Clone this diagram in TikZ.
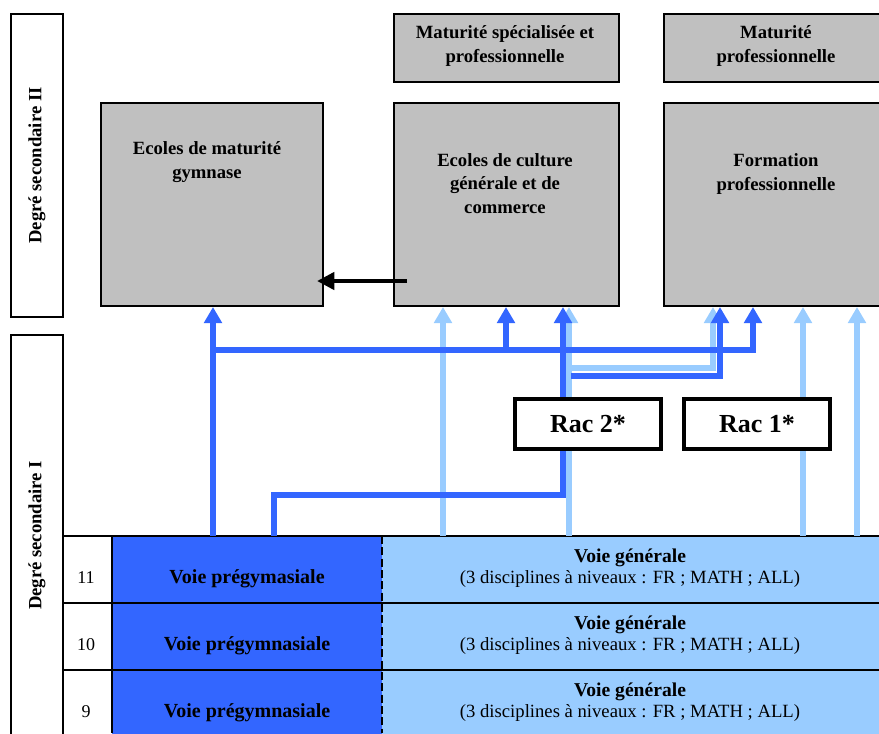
\documentclass[tikz,border=0pt]{standalone}
\usepackage{fontspec}
\setmainfont{Liberation Serif}
\usetikzlibrary{arrows.meta,positioning}

\definecolor{pregym}{HTML}{3366FF}
\definecolor{generale}{HTML}{99CCFF}
\definecolor{ecole}{HTML}{C0C0C0}

\tikzset{
    ecolebox/.style={draw, line width=1.5pt, fill=ecole, anchor=north west, inner sep=0pt},
    ecoletext/.style={font=\fontsize{14}{17.5}\selectfont\bfseries, align=center, anchor=base, inner sep=0pt},
    racbox/.style={draw, line width=3pt, fill=white, anchor=north west, minimum width=109.5pt, minimum height=37.5pt, font=\fontsize{19.5}{22}\selectfont\bfseries},
    degbox/.style={draw, line width=1.5pt, anchor=north west, inner sep=0pt, minimum width=39pt},
    degtext/.style={rotate=90, font=\fontsize{14}{17}\selectfont\bfseries},
    cell/.style={anchor=north west, inner sep=0pt, minimum height=50.25pt},
    numtext/.style={anchor=base, font=\fontsize{13.5}{16}\selectfont},
    voietext/.style={anchor=base, font=\fontsize{15}{18}\selectfont\bfseries},
    gentitle/.style={anchor=base, font=\fontsize{14.7}{17}\selectfont\bfseries},
    gensub/.style={anchor=base, font=\fontsize{14}{17}\selectfont},
    darkarrow/.style={pregym, line width=4pt, -{Triangle[width=13pt,length=12pt]}},
    lightarrow/.style={generale, line width=4pt, -{Triangle[width=13pt,length=12pt]}},
    backarrow/.style={black, line width=3.4pt, -{Triangle[width=12.75pt,length=13pt]}},
}

\begin{document}
\begin{tikzpicture}[x=0.75pt, y=-0.75pt]
    \useasboundingbox (0,0) rectangle (879,733);
    \clip (0,0) rectangle (879,733);

    % Degree labels on the left
    \node[degbox, minimum height=227.25pt] (deg2) at (10,13) {};
    \node[degtext] (deg2txt) at (deg2.center) {Degré secondaire II};
    \node[degbox, minimum height=300.75pt] (deg1) at (10,334) {};
    \node[degtext] (deg1txt) at (deg1.center) {Degré secondaire I};

    % Maturity certificates (anchor = baseline of last line)
    \node[ecolebox, minimum width=168.75pt, minimum height=51pt] (msp) at (393,13) {};
    \node[ecoletext] (msptxt) at (505,62) {Maturité spécialisée et\\professionnelle};
    \node[ecolebox, minimum width=169.5pt, minimum height=51pt] (mp) at (663,13) {};
    \node[ecoletext] (mptxt) at (776,62) {Maturité\\professionnelle};

    % Schools of degree II
    \node[ecolebox, minimum width=166.5pt, minimum height=152.25pt] (gym) at (100,102) {};
    \node[ecoletext] (gymtxt) at (207,178) {Ecoles de maturité\\gymnase};
    \node[ecolebox, minimum width=168.75pt, minimum height=152.25pt] (ecg) at (393,102) {};
    \node[ecoletext] (ecgtxt) at (505,213) {Ecoles de culture\\générale et de\\commerce};
    \node[ecolebox, minimum width=169.5pt, minimum height=152.25pt] (fp) at (663,102) {};
    \node[ecoletext] (fptxt) at (776,190) {Formation\\professionnelle};

    % Rows of degree I
    \foreach \n/\y/\voie in {11/536/Voie prégymasiale, 10/603/Voie prégymnasiale, 9/670/Voie prégymnasiale} {
        \node[cell, minimum width=202.5pt, fill=pregym] (pg\n) at (112,\y) {};
        \node[cell, minimum width=380.25pt, fill=generale] (vg\n) at (382,\y) {};
        \node[numtext] (num\n) at (86,\y+47) {\n};
        \node[voietext] (pgtxt\n) at (247,\y+47) {\voie};
        \node[gentitle] (vgtxt\n) at (630,\y+26) {Voie générale};
        \node[gensub] (vgsub\n) at (630,\y+47) {(3 disciplines à niveaux : FR ; MATH ; ALL)};
    }
    \foreach \y in {536,603,670}
        \draw[line width=1.5pt] (62,\y) -- (879,\y);
    \draw[line width=1.5pt] (112,536) -- (112,733);
    \draw[line width=1.6pt, dash pattern=on 6pt off 2.5pt] (382,536) -- (382,733);

    % Light blue paths
    \draw[lightarrow] (443,0 |- vg11.north) -- (443,0 |- ecg.south);
    \draw[lightarrow] (569,0 |- vg11.north) -- (569,0 |- ecg.south);
    \draw[lightarrow] (569,368) -- (713,368) -- (713,0 |- fp.south);
    \draw[lightarrow] (803,0 |- vg11.north) -- (803,0 |- fp.south);
    \draw[lightarrow] (857,0 |- vg11.north) -- (857,0 |- fp.south);

    % Dark blue paths
    \draw[darkarrow] (213,0 |- pg11.north) -- (213,0 |- gym.south);
    \draw[darkarrow] (213,350) -- (753,350) -- (753,0 |- fp.south);
    \draw[darkarrow] (506,350) -- (506,0 |- ecg.south);
    \draw[darkarrow] (274,0 |- pg11.north) -- (274,495) -- (563,495) -- (563,0 |- ecg.south);
    \draw[darkarrow] (571,376) -- (720,376) -- (720,0 |- fp.south);

    % Passerelles
    \node[racbox] (rac2) at (513,397) {Rac 2*};
    \node[racbox] (rac1) at (682,397) {Rac 1*};

    % From culture generale back to gymnase
    \draw[backarrow] (ecg.south west) ++(14,-26) -- ++(-90,0);
\end{tikzpicture}
\end{document}
